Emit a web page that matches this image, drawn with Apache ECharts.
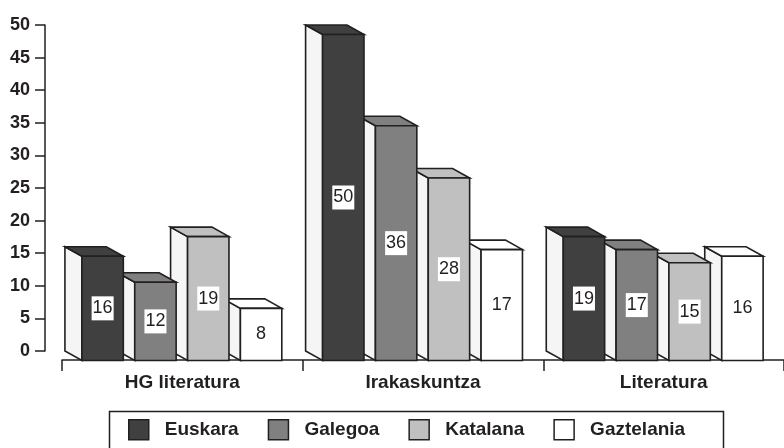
<!DOCTYPE html>
<html>
<head>
<meta charset="utf-8">
<script src="https://cdn.jsdelivr.net/npm/echarts@6/dist/echarts.min.js"></script>
<style>
html,body{margin:0;padding:0;background:#fff;}
#main{width:784px;height:448px;}
</style>
</head>
<body>
<div id="main"></div>
<script>
const categories = ['HG literatura', 'Irakaskuntza', 'Literatura'];
const seriesNames = ['Euskara', 'Galegoa', 'Katalana', 'Gaztelania'];
const euskara = [16, 50, 19];
const galegoa = [12, 36, 17];
const katalana = [19, 28, 15];
const gaztelania = [8, 17, 16];
const yTicks = [0, 5, 10, 15, 20, 25, 30, 35, 40, 45, 50];

const seriesValues = [euskara, galegoa, katalana, gaztelania];
const colors = ['#404040', '#808080', '#c0c0c0', '#ffffff'];
const sideColor = '#f5f5f5';
const stroke = '#231f20';
const FONT = '"Liberation Sans", Arial, Helvetica, sans-serif';
const DX = 17, DY = 9.5;

function makeRender(k) {
  return function (params, api) {
    const ci = api.value(0), v = api.value(1);
    const base = api.coord([ci, 0]);
    const top = api.coord([ci, v]);
    const bw = api.size([1, 0])[0];
    const fl = base[0] - bw / 2 + bw * (0.0828 + 0.2195 * k);
    const fr = fl + bw * 0.172;
    const ybBack = base[1], ytBack = top[1];
    const ytF = ytBack + DY, ybF = ybBack + DY;
    const ls = { stroke: stroke, lineWidth: 1.6, lineJoin: 'miter' };
    return {
      type: 'group',
      children: [
        { type: 'polygon', shape: { points: [[fl - DX, ytBack], [fl, ytF], [fl, ybF], [fl - DX, ybBack]] },
          style: Object.assign({ fill: sideColor }, ls) },
        { type: 'polygon', shape: { points: [[fl - DX, ytBack], [fr - DX, ytBack], [fr, ytF], [fl, ytF]] },
          style: Object.assign({ fill: colors[k] }, ls) },
        { type: 'rect', shape: { x: fl, y: ytF, width: fr - fl, height: ybF - ytF },
          style: Object.assign({ fill: colors[k] }, ls) },
        { type: 'text', z2: 10, style: {
            text: String(v), x: (fl + fr) / 2, y: (ytF + ybF) / 2,
            align: 'center', verticalAlign: 'middle',
            font: '18px ' + FONT, fill: stroke,
            backgroundColor: '#ffffff', padding: [3, 1, 3, 1], lineHeight: 18 } }
      ]
    };
  };
}

const chart = echarts.init(document.getElementById('main'), null, { renderer: 'canvas' });
const series = seriesNames.map((name, k) => ({
  name: name,
  type: 'custom',
  z: 10 - k,
  renderItem: makeRender(k),
  itemStyle: { color: colors[k], borderColor: stroke, borderWidth: 1.5 },
  encode: { x: 0, y: 1 },
  data: seriesValues[k].map((v, i) => [i, v])
}));

chart.setOption({
  animation: false,
  backgroundColor: '#ffffff',
  grid: { left: 62, top: 25, width: 724.5, height: 326 },
  xAxis: {
    type: 'category', data: categories, offset: 9, position: 'bottom',
    axisLine: { onZero: false, lineStyle: { color: stroke, width: 1.5 } },
    axisTick: { show: true, inside: false, alignWithLabel: false, length: 11, lineStyle: { color: stroke, width: 1.5 } },
    axisLabel: { fontFamily: FONT, fontSize: 19, fontWeight: 'bold', color: stroke, margin: 13 }
  },
  yAxis: {
    type: 'value', min: yTicks[0], max: yTicks[yTicks.length - 1], interval: yTicks[1] - yTicks[0], offset: 17,
    axisLine: { show: true, onZero: false, lineStyle: { color: stroke, width: 1.5 } },
    axisTick: { show: true, length: 10, lineStyle: { color: stroke, width: 1.5 } },
    axisLabel: { fontFamily: FONT, fontSize: 18, fontWeight: 'bold', color: stroke, margin: 15 },
    splitLine: { show: false }
  },
  legend: {
    left: 107, top: 409,
    orient: 'horizontal',
    padding: [10, 26, 10, 21],
    itemWidth: 20, itemHeight: 20, itemGap: 29,
    textStyle: { fontFamily: FONT, fontSize: 19, fontWeight: 'bold', color: stroke, padding: [0, 0, 0, 11] },
    data: seriesNames.map((n, k) => ({ name: n, icon: 'rect',
      itemStyle: { color: colors[k], borderColor: stroke, borderWidth: 1.5 } }))
  },
  graphic: [{
    type: 'rect', left: 107, top: 409, silent: true,
    shape: { width: 614, height: 60 },
    style: { fill: 'none', stroke: stroke, lineWidth: 1.5 }
  }],
  series: series
});
</script>
</body>
</html>
